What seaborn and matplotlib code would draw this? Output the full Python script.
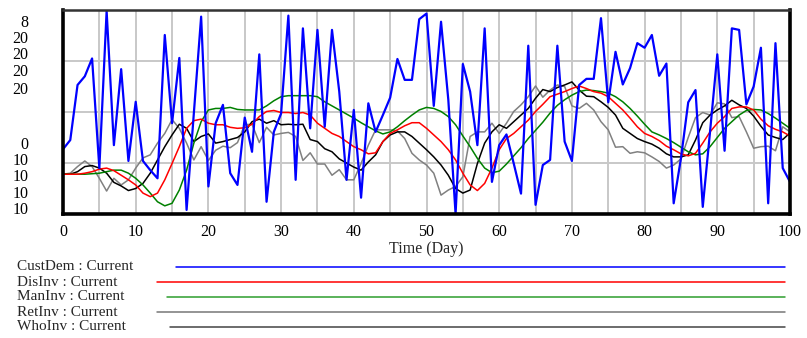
import matplotlib
matplotlib.use("Agg")
import matplotlib.pyplot as plt
import seaborn as sns
from matplotlib.lines import Line2D

# Time axis (days)
days = list(range(0, 101))

# Series values
cust_dem = [12.7, 14.5, 25.3, 27.0, 30.5, 9.0, 39.8, 13.5, 28.4, 10.4,
            22.0, 10.4, 8.6, 7.0, 35.1, 17.8, 30.6, 0.8, 19.8, 38.7,
            5.4, 17.8, 21.4, 8.0, 5.7, 18.9, 12.2, 31.3, 2.4, 16.1,
            19.7, 38.9, 6.7, 36.4, 16.8, 36.1, 17.1, 36.1, 24.0, 6.7,
            20.4, 3.2, 21.7, 16.1, 19.4, 22.8, 30.4, 26.3, 26.3, 38.2,
            39.3, 21.2, 37.7, 22.4, 0.0, 29.4, 24.0, 13.5, 36.4, 6.3,
            13.5, 15.6, 9.9, 4.0, 33.0, 1.8, 9.6, 10.6, 33.0, 14.2,
            10.4, 25.3, 26.5, 26.5, 38.4, 21.9, 31.8, 25.4, 28.6, 33.5,
            32.6, 35.1, 27.1, 29.5, 2.1, 10.9, 21.9, 24.3, 1.4, 16.1,
            31.3, 12.4, 36.4, 36.1, 21.5, 25.0, 32.6, 2.1, 33.5, 9.0,
            6.3]
dis_inv = [7.8, 7.8, 7.8, 8.0, 8.3, 8.8, 9.0, 8.5, 7.6, 6.7,
           5.7, 4.1, 3.4, 4.1, 6.7, 9.9, 13.2, 16.8, 18.3, 18.6,
           17.8, 17.5, 17.5, 17.0, 16.8, 16.9, 17.6, 19.1, 20.1, 20.3,
           19.9, 19.9, 19.7, 19.9, 19.4, 17.8, 16.8, 15.8, 15.2, 14.2,
           13.2, 12.6, 11.8, 12.0, 14.2, 15.8, 16.5, 17.3, 17.9, 17.9,
           16.8, 15.5, 14.2, 12.6, 10.6, 8.0, 5.7, 4.6, 6.0, 9.0,
           12.6, 14.8, 15.8, 17.1, 18.4, 20.1, 21.5, 23.0, 23.5, 24.0,
           24.6, 25.1, 24.6, 24.0, 23.7, 23.0, 21.7, 20.4, 18.8, 17.1,
           15.8, 15.2, 14.4, 13.3, 12.6, 11.8, 11.4, 11.9, 13.9, 16.1,
           17.8, 19.1, 20.7, 21.0, 21.0, 20.4, 18.6, 17.3, 16.6, 16.1,
           15.3]
man_inv = [7.8, 7.8, 7.8, 7.8, 7.9, 8.0, 8.3, 8.6, 8.6, 8.0,
           7.0, 5.7, 4.1, 2.4, 1.6, 2.1, 4.7, 8.6, 13.9, 18.1,
           20.4, 20.7, 20.7, 20.9, 20.5, 20.4, 20.4, 20.4, 21.2, 22.2,
           23.0, 23.2, 23.2, 23.2, 23.2, 23.0, 22.0, 21.2, 20.4, 19.6,
           18.8, 17.9, 17.1, 16.3, 15.7, 16.1, 17.1, 18.3, 19.4, 20.4,
           20.9, 20.7, 20.1, 19.1, 17.5, 15.3, 13.2, 10.9, 9.0, 8.1,
           8.4, 9.8, 11.4, 13.0, 14.8, 16.4, 18.0, 19.8, 21.3, 22.4,
           23.3, 24.0, 24.3, 24.2, 24.0, 23.7, 23.0, 22.0, 20.7, 19.2,
           17.6, 16.1, 15.5, 14.8, 14.0, 13.1, 12.2, 11.6, 11.8, 13.2,
           15.0, 16.8, 18.1, 19.4, 20.3, 20.5, 20.4, 19.7, 18.8, 17.8,
           16.8]
ret_inv = [7.8, 8.0, 9.3, 10.4, 9.3, 7.0, 4.5, 7.0, 5.7, 6.7,
           9.0, 11.0, 11.6, 13.9, 15.8, 18.5, 16.8, 13.9, 10.6, 13.2,
           10.5, 12.5, 13.3, 13.0, 14.0, 17.5, 17.6, 14.0, 17.0, 15.5,
           15.8, 16.0, 15.2, 10.5, 12.0, 9.8, 9.8, 7.6, 8.7, 6.7,
           6.7, 9.9, 13.5, 16.5, 16.5, 16.5, 16.3, 14.8, 11.9, 10.6,
           9.6, 8.0, 3.7, 4.7, 5.4, 7.3, 15.2, 16.1, 16.1, 17.8,
           15.8, 17.8, 20.1, 21.4, 23.0, 25.1, 22.9, 24.3, 25.3, 25.0,
           21.2, 20.7, 21.7, 20.4, 18.1, 16.5, 13.1, 13.2, 11.9, 12.2,
           12.0, 11.2, 10.3, 9.0, 9.6, 10.8, 15.0, 18.9, 19.9, 19.4,
           21.8, 21.6, 18.9, 19.1, 16.1, 12.9, 13.2, 13.3, 12.4, 17.1,
           16.1]
who_inv = [7.8, 7.8, 8.3, 9.3, 9.5, 9.0, 8.0, 6.2, 5.5, 4.6,
           5.0, 6.0, 8.0, 10.6, 13.2, 15.5, 17.6, 16.8, 14.2, 15.2,
           15.7, 13.9, 14.2, 14.6, 15.0, 16.1, 18.1, 18.6, 17.8, 18.3,
           17.5, 17.6, 17.5, 17.6, 14.6, 14.2, 12.8, 12.2, 10.8, 10.0,
           9.2, 8.6, 10.2, 11.6, 14.2, 15.5, 16.1, 16.1, 15.2, 13.9,
           12.6, 11.2, 9.6, 7.6, 5.0, 4.1, 4.7, 9.9, 13.9, 16.1,
           17.5, 16.8, 18.1, 19.4, 20.7, 22.7, 24.4, 24.0, 24.8, 25.3,
           25.9, 24.3, 23.1, 23.0, 22.0, 20.9, 19.4, 16.8, 15.8, 14.8,
           14.2, 13.7, 12.9, 11.8, 11.2, 11.2, 11.6, 14.5, 17.9, 19.4,
           20.4, 21.2, 22.3, 21.4, 20.7, 19.2, 17.2, 15.5, 15.0, 14.6,
           15.9]

x_ticks = list(range(0, 101, 10))
y_tick_labels = ["8", "20", "20", "20", "20", "0", "10", "10", "10", "10"]
legend_labels = ["CustDem : Current", "DisInv : Current", "ManInv : Current",
                 "RetInv : Current", "WhoInv : Current"]

sns.set_theme(style="white")
plt.rcParams["font.family"] = ["Liberation Serif", "DejaVu Serif"]

W, H = 807, 338
fig = plt.figure(figsize=(W / 100, H / 100), dpi=100)
ax = fig.add_axes([63 / W, 1 - 214 / H, 727 / W, 204 / H])

# draw order: gray, black, green, red, blue on top
series = [
    (ret_inv, "#808080", 1.1),
    (who_inv, "#000000", 1.1),
    (man_inv, "#008000", 1.1),
    (dis_inv, "#ff0000", 1.1),
    (cust_dem, "#0000ff", 1.6),
]
for vals, col, lw in series:
    sns.lineplot(x=days, y=vals, color=col, linewidth=lw, ax=ax)

ax.set_xlim(0, 100)
ax.set_ylim(0, 40)

# gridlines every 5 days and at 10/20/30 units
ax.set_xticks(x_ticks)
ax.set_xticks(range(5, 100, 10), minor=True)
ax.set_yticks([37.9, 34.8, 31.5, 28.2, 24.8, 14.0, 10.7, 7.6, 4.4, 1.1])
ax.set_yticklabels(y_tick_labels)
ax.set_yticks([10, 20, 30], minor=True)
ax.grid(True, axis="x", which="both", color="#c8c8c8", linewidth=1.4)
ax.grid(True, axis="y", which="minor", color="#c8c8c8", linewidth=1.4)
ax.grid(False, axis="y", which="major")
ax.set_axisbelow(True)

ax.tick_params(axis="both", which="both", length=0, labelsize=11.5, colors="black")
ax.tick_params(axis="y", pad=25)
ax.tick_params(axis="x", pad=7)
ax.set_xlabel("Time (Day)", fontsize=11.5, labelpad=1)
ax.set_ylabel("")

for side in ["left", "right", "bottom"]:
    ax.spines[side].set_linewidth(2.6)
    ax.spines[side].set_color("black")
ax.spines["top"].set_linewidth(1.8)
ax.spines["top"].set_color("#333333")

# legend underneath, Vensim style
leg_y = [267, 282, 297, 312, 327]
leg_start = [176, 157, 167, 157, 170]
leg_cols = ["#0000ff", "#ff0000", "#2e9e2e", "#777777", "#444444"]
for lab, yy, xs, col in zip(legend_labels, leg_y, leg_start, leg_cols):
    fig.text(17 / W, 1 - yy / H, lab, fontsize=11, va="center", ha="left")
    fig.add_artist(Line2D([xs / W, 785 / W], [1 - yy / H, 1 - yy / H],
                          color=col, linewidth=1.1))

fig.savefig("out.png", dpi=100)
